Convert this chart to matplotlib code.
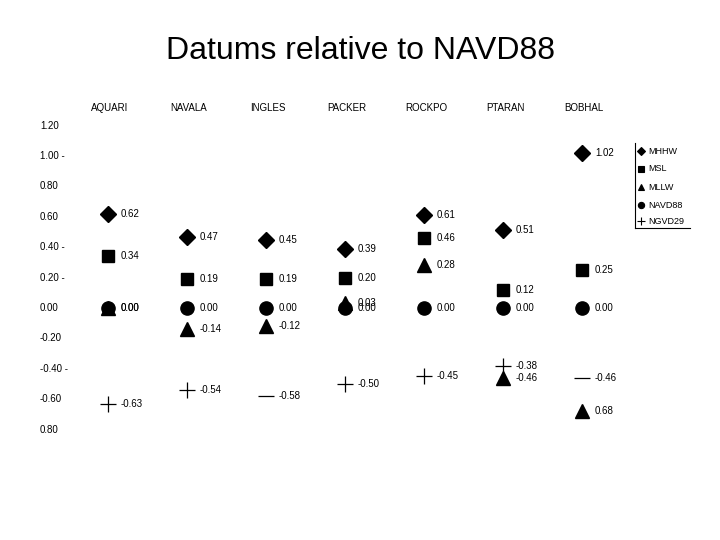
import numpy as np
import matplotlib.pyplot as plt
from matplotlib.transforms import blended_transform_factory

plt.rcParams['font.family'] = ['Liberation Sans', 'DejaVu Sans']

sites = ['AQUARI', 'NAVALA', 'INGLES', 'PACKER', 'ROCKPO', 'PTARAN', 'BOBHAL']
datums = ['MHHW', 'MSL', 'MLLW', 'NAVD88', 'NGVD29']

mhhw = [0.62, 0.47, 0.45, 0.39, 0.61, 0.51, 1.02]
msl = [0.34, 0.19, 0.19, 0.20, 0.46, 0.12, 0.25]
mllw = [0.00, -0.14, -0.12, 0.03, 0.28, -0.46, -0.68]
navd88 = [0.00, 0.00, 0.00, 0.00, 0.00, 0.00, 0.00]
ngvd29 = [-0.63, -0.54, -0.58, -0.50, -0.45, -0.38, -0.46]

# labels as printed on the original (some signs got lost)
mllw_lbl = ['0.00', '-0.14', '-0.12', '0.03', '0.28', '-0.46', '0.68']
ngvd_mk = ['+', '+', '_', '+', '+', '+', '_']

ytick_vals = [1.2, 1.0, 0.8, 0.6, 0.4, 0.2, 0.0, -0.2, -0.4, -0.6, -0.8]
ytick_lbl = ['1.20', '1.00 -', '0.80', '0.60', '0.40 -', '0.20 -', '0.00',
             '-0.20', '-0.40 -', '-0.60', '0.80']

W, H = 720, 540
x0, dx = 108, 79      # pixel of first column, column spacing
y0, dy = 308, 152     # pixel of zero, pixels per unit

fig = plt.figure(figsize=(7.2, 5.4), dpi=100)
ax = fig.add_axes([0, 0, 1, 1])
ax.axis('off')
ax.set_xlim(-x0 / dx, (W - x0) / dx)
ax.set_ylim((y0 - H) / dy, y0 / dy)

x = np.arange(len(sites))
fs = 7

def labels(vals, lbls=None):
    for i, v in enumerate(vals):
        t = lbls[i] if lbls else f'{v:.2f}'
        ax.annotate(t, (x[i], v), xytext=(13, 0), textcoords='offset pixels',
                    va='center', ha='left', fontsize=fs)

ax.plot(x, mhhw, ls='none', marker='D', ms=8, color='k')
labels(mhhw)
ax.plot(x, msl, ls='none', marker='s', ms=9, color='k')
labels(msl)
ax.plot(x, mllw, ls='none', marker='^', ms=10, color='k')
labels(mllw, mllw_lbl)
ax.plot(x, navd88, ls='none', marker='o', ms=9.5, color='k')
labels(navd88)
for i, v in enumerate(ngvd29):
    ax.plot(x[i], v, ls='none', marker=ngvd_mk[i], ms=11, mew=0.9, color='k')
labels(ngvd29)

# column headers
for i, s in enumerate(sites):
    ax.annotate(s, (x[i], (y0 - 108) / dy), xytext=(2, 0),
                textcoords='offset pixels', ha='center', va='center', fontsize=fs)

# y labels
tr = blended_transform_factory(ax.transAxes, ax.transData)
for v, t in zip(ytick_vals, ytick_lbl):
    ax.text(40 / W, v, t, transform=tr, ha='left', va='center', fontsize=fs)

fig.text(0.5, 1 - 51 / H, 'Datums relative to NAVD88', ha='center', va='center',
         fontsize=23)

# legend
lx, ly0, ly1, lx1 = 635 / W, 1 - 143 / H, 1 - 228 / H, 690 / W
ax.plot([lx, lx], [ly0, ly1], color='k', lw=0.8, transform=ax.transAxes)
ax.plot([lx, lx1], [ly1, ly1], color='k', lw=0.8, transform=ax.transAxes)
leg_mk = ['D', 's', '^', 'o', '+']
leg_ms = [4, 4.5, 5, 4.5, 6]
leg_y = [151, 169, 187, 205, 221]
for m, s, yy, name in zip(leg_mk, leg_ms, leg_y, datums):
    ax.plot(641 / W, 1 - yy / H, marker=m, ms=s, mew=0.8, color='k',
            transform=ax.transAxes)
    ax.text(648 / W, 1 - yy / H, name, transform=ax.transAxes, ha='left',
            va='center', fontsize=6.5)

fig.savefig('out.png', dpi=100)
